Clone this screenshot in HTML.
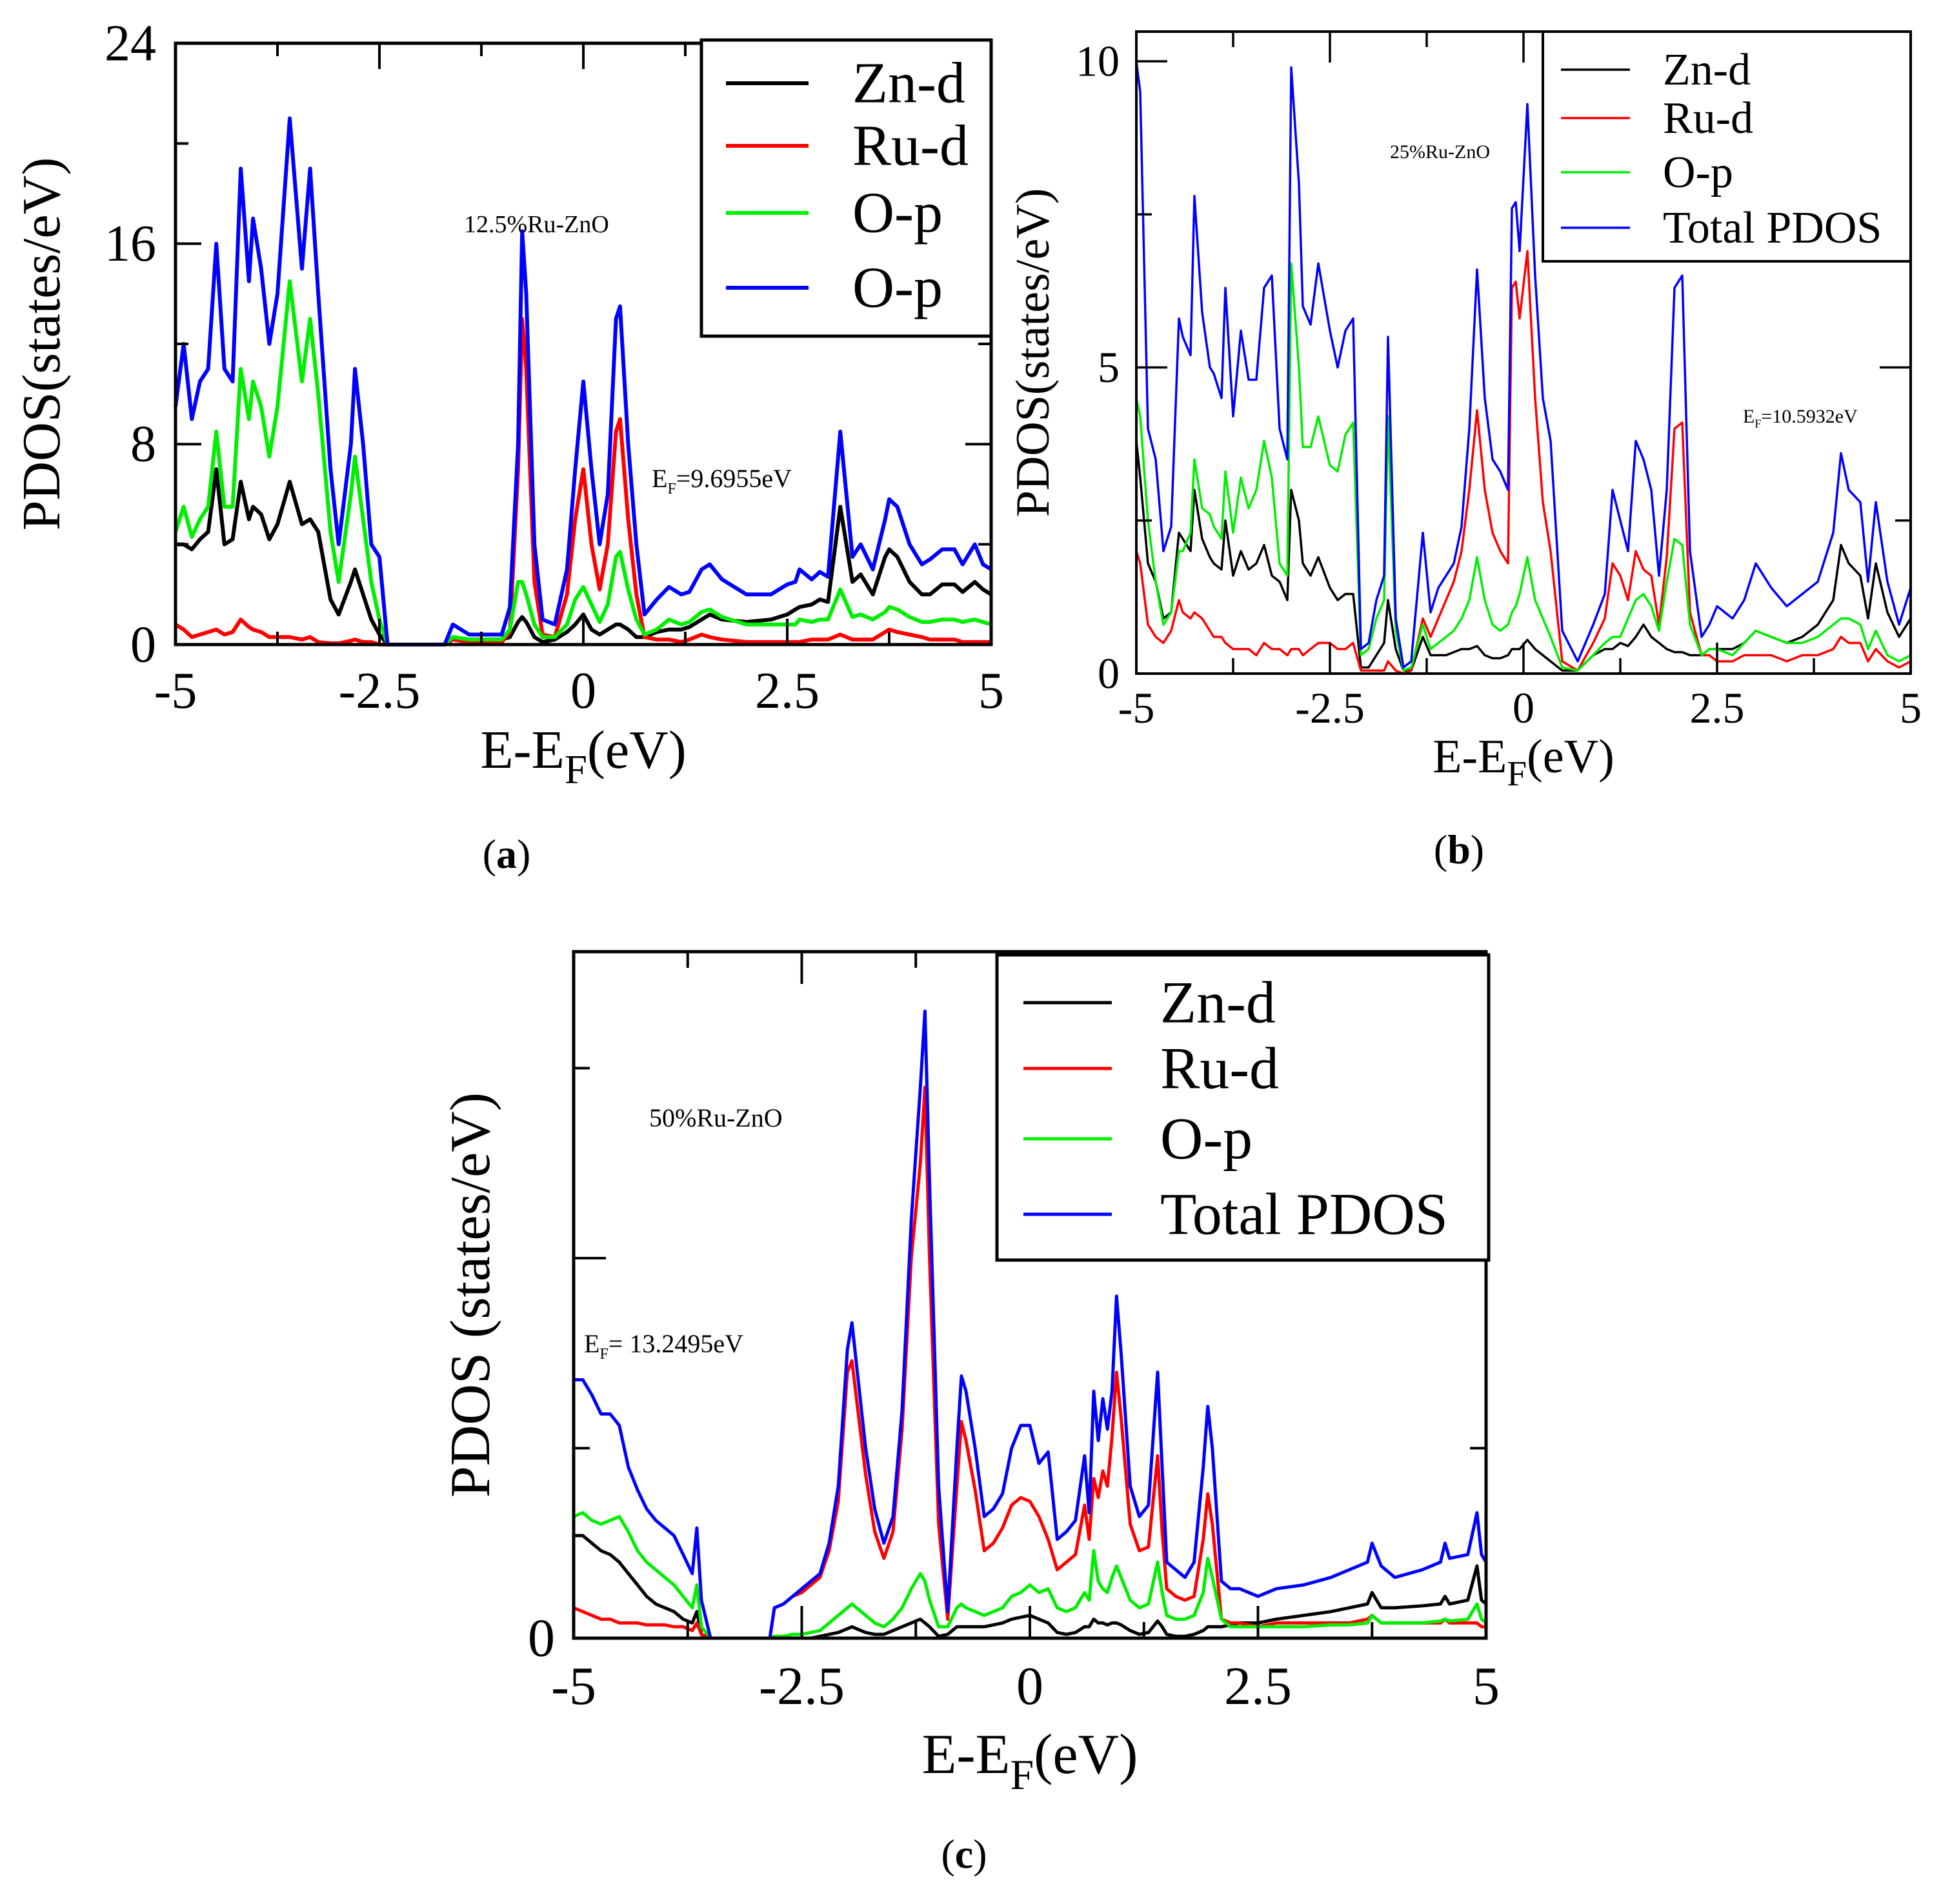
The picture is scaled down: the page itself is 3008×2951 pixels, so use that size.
<!DOCTYPE html>
<html><head><meta charset="utf-8"><style>
html,body{margin:0;padding:0;background:#fff}
svg, svg text{font-family:"Liberation Serif","Times New Roman",serif}
</style></head><body>
<svg id="fig" width="3008" height="2946" viewBox="0 0 3008 2946" xmlns="http://www.w3.org/2000/svg" font-family="Liberation Serif, serif">
<rect width="3008" height="2946" fill="#fff"/>
</svg>
<script>
// ---------- Panel (a) data ----------
const aEnergy=[-5,-4.9,-4.8,-4.7,-4.6,-4.5,-4.4,-4.3,-4.2,-4.1,
-4.05,-3.95,-3.85,-3.75,-3.6,-3.45,-3.35,-3.25,-3.1,-3.0,
-2.85,-2.8,-2.7,-2.6,-2.5,-2.4,-1.7,-1.6,-1.4,-1.0,
-0.9,-0.8,-0.75,-0.7,-0.6,-0.5,-0.35,-0.2,-0.1,0,
0.1,0.2,0.3,0.4,0.45,0.55,0.65,0.75,0.9,1.05,
1.2,1.3,1.45,1.55,1.7,2.0,2.3,2.5,2.6,2.65,
2.8,2.9,3.0,3.15,3.3,3.4,3.55,3.7,3.75,3.85,
4.0,4.15,4.25,4.4,4.55,4.65,4.8,4.9,5.0];
const aTotal=[9.5,12,9,10.5,11,16,11,10.5,19,14.5,
17,15,12,14,21,15,19,14,7,4,
8,11,8,4,3.5,0,0,0.8,0.4,0.4,
1.5,8,16.5,14,4,1,0.8,3,7,10.5,
7,4,6,13,13.5,8,4,1.2,1.8,2.3,
2,2.1,3,3.2,2.6,2,2,2.4,2.5,3,
2.6,2.9,2.7,8.5,3.5,4,3,5,5.8,5.5,
4,3.2,3.4,3.8,3.8,3.2,4,3.2,3.0];
const aOp=[4.5,5.5,4.3,5,5.5,8.5,5.5,5.5,11,9,
10.5,9.5,7.5,9.5,14.5,10.5,13,10,4.5,2.5,
6,7.5,5,2.5,1,0,0,0.3,0.2,0.2,
0.6,2.5,2.5,2,0.8,0.3,0.3,0.8,1.8,2.3,
1.6,0.9,1.6,3.5,3.7,2.2,1,0.4,0.6,1.0,
0.8,0.9,1.3,1.4,1.1,0.8,0.8,0.8,0.8,1.0,
0.9,1.0,1.0,2.2,1.1,1.2,1.0,1.3,1.5,1.4,
1.1,0.9,0.9,1.0,1.0,0.9,1.0,0.9,0.8];
const aZnd=[4,4,3.8,4.2,4.5,7,4,4.2,6.5,5,
5.5,5.2,4.2,4.8,6.5,4.8,5,4.5,1.8,1.2,
2.5,3,2,1,0.4,0,0,0.3,0.2,0.2,
0.3,0.9,1.1,0.9,0.3,0.1,0.2,0.5,0.8,1.2,
0.6,0.4,0.6,0.8,0.8,0.6,0.3,0.3,0.5,0.6,
0.6,0.7,1.0,1.2,1.0,0.9,1.0,1.2,1.4,1.5,
1.6,1.8,1.7,5.5,2.5,2.8,2,3.5,3.8,3.5,
2.5,2.0,2.0,2.4,2.4,2.1,2.5,2.2,2.0];
const aRud=[0.8,0.6,0.3,0.4,0.5,0.6,0.4,0.5,1,0.7,
0.6,0.5,0.3,0.3,0.3,0.2,0.3,0.1,0.05,0.05,
0.15,0.2,0.1,0.1,0,0,0,0.2,0.1,0.1,
0.5,7,13,11,2.5,0.4,0.3,2,5,7,
4,2.2,4,8.5,9,5,2,0.3,0.2,0.2,
0.1,0.2,0.4,0.3,0.2,0.1,0.1,0.1,0.1,0.1,
0.2,0.2,0.2,0.4,0.2,0.2,0.2,0.5,0.6,0.5,
0.4,0.3,0.2,0.2,0.2,0.1,0.1,0.1,0.1];
const aYTicks=["0","8","16","24"];

// ---------- Panel (b) data ----------
const bEnergy=[-5,-4.95,-4.85,-4.75,-4.65,-4.55,-4.45,-4.4,-4.3,-4.25,
-4.15,-4.05,-4.0,-3.9,-3.85,-3.75,-3.65,-3.55,-3.45,-3.35,
-3.25,-3.15,-3.05,-3.0,-2.9,-2.85,-2.75,-2.65,-2.5,-2.4,
-2.3,-2.2,-2.1,-2.0,-1.9,-1.8,-1.75,-1.65,-1.55,-1.45,
-1.3,-1.2,-1.1,-1.0,-0.9,-0.8,-0.7,-0.6,-0.5,-0.4,
-0.3,-0.2,-0.15,-0.1,-0.05,0.05,0.15,0.25,0.35,0.5,
0.7,0.9,1.05,1.15,1.25,1.35,1.45,1.55,1.65,1.75,
1.85,1.95,2.05,2.15,2.3,2.4,2.5,2.7,2.85,3.0,
3.2,3.4,3.6,3.8,4.0,4.1,4.2,4.35,4.45,4.55,
4.7,4.85,5.0];
const bTotal=[10,9.5,4,3.5,2,2.4,5.8,5.5,5.2,7.8,
5.9,5,4.9,4.5,6.3,4.2,5.6,4.8,4.8,6.3,
6.5,4,3.5,9.9,8,6,5.7,6.7,5.6,5.0,
5.6,5.8,0.4,0.5,1.2,1.6,5.5,0.9,0.1,0.2,
2.3,1,1.4,1.6,1.8,2.4,4,6.6,4.5,3.5,
3.3,3,7.6,7.7,6.9,9.3,6.5,4.5,3.8,0.7,
0.2,0.8,1.3,3.0,2.5,2.0,3.8,3.5,3.0,1.6,
3.0,6.3,6.5,2.0,0.6,0.8,1.1,0.9,1.2,1.8,
1.4,1.1,1.3,1.5,2.3,3.6,3.0,2.8,1.5,2.8,
1.5,0.8,1.4];
const bOp=[4.5,4.2,2.5,1.5,0.8,1.0,2.0,2.0,2.3,3.5,
2.7,2.6,2.4,2.2,3.3,2.3,3.2,2.7,3.0,3.8,
3.2,1.8,1.6,6.7,5.0,3.7,3.7,4.2,3.4,3.3,
3.9,4.1,0.3,0.4,0.9,1.2,4.2,0.7,0.05,0.1,
0.8,0.4,0.5,0.6,0.7,0.9,1.2,1.9,1.2,0.8,
0.7,0.8,1.0,1.1,1.3,1.9,1.2,0.9,0.6,0.1,
0.05,0.3,0.5,0.6,0.6,0.9,1.2,1.3,1.1,0.7,
1.5,2.2,2.1,0.8,0.3,0.4,0.4,0.3,0.5,0.7,
0.6,0.5,0.5,0.6,0.8,0.9,0.9,0.8,0.4,0.7,
0.3,0.2,0.3];
const bZnd=[3.8,3.2,1.8,1.5,0.9,1.0,2.3,2.2,2.0,3.0,
2.2,1.9,1.8,1.7,2.5,1.6,2.0,1.7,1.8,2.1,
1.6,1.5,1.2,3.0,2.5,1.8,1.6,1.9,1.4,1.2,
1.3,1.3,0.1,0.1,0.3,0.5,1.2,0.4,0.05,0.05,
0.6,0.3,0.3,0.3,0.35,0.4,0.4,0.45,0.3,0.25,
0.25,0.3,0.4,0.4,0.4,0.55,0.4,0.3,0.2,0.05,
0.05,0.3,0.4,0.4,0.5,0.45,0.6,0.8,0.6,0.5,
0.4,0.35,0.35,0.3,0.3,0.4,0.4,0.4,0.5,0.7,
0.6,0.5,0.6,0.8,1.2,2.1,1.8,1.6,0.9,1.8,
1.0,0.6,0.9];
const bRud=[2.0,1.8,0.8,0.6,0.5,0.7,1.2,1.0,0.9,1.0,
0.9,0.7,0.6,0.6,0.5,0.4,0.4,0.4,0.3,0.5,
0.4,0.4,0.3,0.4,0.4,0.3,0.4,0.5,0.5,0.4,
0.4,0.5,0.05,0.05,0.05,0.05,0.2,0.05,0.0,0.05,
0.9,0.6,0.9,1.2,1.5,2.0,3.0,4.3,3.0,2.3,
2.0,1.8,6.3,6.4,5.8,6.9,4.5,2.8,2.0,0.2,
0.05,0.5,0.9,1.8,1.6,1.2,2.0,1.7,1.6,0.8,
1.9,4.0,4.1,1.0,0.3,0.3,0.2,0.2,0.3,0.3,
0.3,0.2,0.3,0.3,0.4,0.6,0.5,0.5,0.2,0.4,
0.2,0.1,0.2];
const bYTicks=["0","5","10"];

// ---------- Panel (c) data ----------
const cEnergy=[-5,-4.9,-4.8,-4.7,-4.6,-4.5,-4.4,-4.3,-4.2,-4.1,
-4.0,-3.9,-3.8,-3.7,-3.65,-3.6,-3.5,-3.45,-2.85,-2.8,
-2.7,-2.6,-2.5,-2.4,-2.3,-2.2,-2.1,-2.0,-1.95,-1.9,
-1.8,-1.7,-1.6,-1.5,-1.4,-1.3,-1.2,-1.15,-1.1,-1.0,
-0.9,-0.8,-0.75,-0.7,-0.6,-0.5,-0.4,-0.3,-0.2,-0.1,
0,0.1,0.2,0.3,0.4,0.5,0.6,0.65,0.7,0.75,
0.8,0.85,0.9,0.95,1.0,1.1,1.2,1.3,1.4,1.45,
1.5,1.6,1.7,1.8,1.9,1.95,2.0,2.1,2.2,2.3,
2.5,2.7,3.0,3.3,3.5,3.7,3.75,3.85,4.0,4.3,
4.5,4.55,4.6,4.8,4.9,4.95,5.0];
const cTotal=[6.8,6.8,6.4,5.9,5.9,5.6,4.5,3.9,3.4,3.1,
2.9,2.7,2.2,1.7,2.9,1.0,0,0,0,0.8,
0.9,1.1,1.3,1.5,1.7,2.5,4.0,7.6,8.3,7.2,
5.0,3.4,2.5,3.2,6.0,11,14.5,16.5,12,4,
0.7,5.0,6.9,6.5,5.0,3.2,3.4,3.8,5.0,5.6,
5.6,4.6,4.9,2.6,2.8,3.1,4.8,3.3,6.5,5.2,
6.3,5.5,6.5,9.0,7.5,4.0,3.2,3.5,7.0,4.5,
2.0,1.8,1.6,2.0,4.5,6.1,5.0,1.5,1.3,1.3,
1.1,1.3,1.4,1.6,1.8,2.0,2.5,1.9,1.6,1.8,
2.0,2.5,2.1,2.2,3.3,2.2,2.0];
const cRud=[0.8,0.7,0.6,0.5,0.5,0.4,0.4,0.4,0.35,0.35,
0.35,0.3,0.3,0.2,0.4,0.1,0,0,0,0.8,
0.9,1.1,1.2,1.4,1.6,2.3,3.6,7.0,7.3,6.3,
4.3,2.8,2.1,2.8,5.5,10,12.5,14.5,10,3,
0.5,4.0,5.7,5.2,3.9,2.3,2.5,2.9,3.5,3.7,
3.6,3.2,2.6,1.8,2.0,2.2,3.5,2.6,4.2,3.7,
4.4,4.0,5.3,7.0,5.8,3.0,2.3,2.4,4.8,2.8,
1.3,1.1,1.0,1.1,2.6,3.8,3.0,0.5,0.4,0.4,
0.3,0.4,0.4,0.4,0.4,0.5,0.6,0.4,0.4,0.4,
0.4,0.5,0.4,0.4,0.4,0.3,0.3];
const cOp=[3.2,3.3,3.1,3.0,3.1,3.2,2.8,2.3,2.0,1.8,
1.6,1.4,1.1,0.8,1.4,0.3,0,0,0,0.05,
0.05,0.1,0.1,0.15,0.2,0.4,0.6,0.8,0.9,0.8,
0.6,0.4,0.3,0.5,0.8,1.3,1.7,1.5,1.0,0.3,
0.3,0.8,0.9,0.8,0.7,0.6,0.7,0.8,1.1,1.2,
1.4,1.2,1.3,0.8,0.7,0.8,1.2,1.0,2.3,1.5,
1.3,1.2,1.6,1.9,1.6,1.0,0.8,0.9,2.0,1.2,
0.6,0.5,0.5,0.6,1.2,2.1,1.6,0.5,0.3,0.3,
0.3,0.3,0.3,0.35,0.35,0.4,0.6,0.4,0.4,0.4,
0.45,0.5,0.45,0.5,0.9,0.5,0.4];
const cZnd=[2.7,2.7,2.5,2.3,2.2,2.0,1.7,1.4,1.1,0.9,
0.8,0.7,0.5,0.4,0.7,0.1,0,0,0,0,
0,0,0,0,0.05,0.1,0.15,0.25,0.3,0.25,
0.15,0.1,0.1,0.2,0.3,0.4,0.5,0.4,0.3,0.05,
0.1,0.3,0.3,0.3,0.3,0.3,0.35,0.4,0.5,0.55,
0.6,0.5,0.4,0.15,0.1,0.15,0.3,0.3,0.5,0.4,
0.4,0.35,0.4,0.4,0.35,0.2,0.1,0.15,0.45,0.3,
0.1,0.05,0.05,0.1,0.2,0.3,0.3,0.3,0.35,0.4,
0.4,0.5,0.6,0.7,0.8,0.9,1.2,0.8,0.8,0.85,
0.9,1.1,0.9,1.0,1.9,1.0,0.9];
const cYTicks=["0"];
const xTickLabels=["-5","-2.5","0","2.5","5"];
const xTickValues=[-5,-2.5,0,2.5,5];

const NS="http://www.w3.org/2000/svg";
const FONT="Liberation Serif, Times New Roman, serif";
const svg=document.getElementById('fig');
function mk(tag,attrs,parent){const e=document.createElementNS(NS,tag);for(const k in attrs)e.setAttribute(k,attrs[k]);if(tag==='text')e.setAttribute('font-family',FONT);(parent||svg).appendChild(e);return e;}

function panel(cfg){
  const g=mk('g',{});
  
  
  const L=cfg.l,R=cfg.r,T=cfg.t,B=cfg.b;
  const sx=e=>L+(e-(-5))/10*(R-L);
  const sy=v=>B-(v-0)/cfg.ymaxVal*(B-cfg.ymaxPix);
  cfg.series.forEach(s=>{
    let d='';
    cfg.energy.forEach((e,i)=>{const y=Math.max(T,sy(s.vals[i]));d+=(i?'L':'M')+sx(e).toFixed(1)+' '+y.toFixed(1);});
    const p=mk('path',{d:d,fill:'none',stroke:s.color,'stroke-width':cfg.lw,'stroke-linejoin':'round'},g);
    
    
  });
  const tg=mk('g',{stroke:'#000','stroke-width':cfg.tw},g);
  
  
  for(let e=-5;e<=5.001;e+=1.25){
    const major=Math.abs(e/2.5-Math.round(e/2.5))<1e-6;
    const len=major?cfg.tl:cfg.tl/2;
    mk('line',{x1:sx(e),x2:sx(e),y1:B,y2:B-len},tg);
    mk('line',{x1:sx(e),x2:sx(e),y1:T,y2:T+len},tg);
  }
  cfg.yTicks.forEach(t=>{
    const len=t.major?cfg.tl:cfg.tl/2;
    mk('line',{x1:L,x2:L+len,y1:sy(t.v),y2:sy(t.v)},tg);
    mk('line',{x1:R,x2:R-len,y1:sy(t.v),y2:sy(t.v)},tg);
  });
  const fr=mk('rect',{x:L,y:T,width:R-L,height:B-T,fill:'none',stroke:'#000','stroke-width':cfg.fw},g);
  
  
  xTickValues.forEach((v,i)=>{
    const t=mk('text',{x:sx(v),y:cfg.xlabY,'font-size':cfg.tfs,'text-anchor':'middle'},g);
    t.textContent=xTickLabels[i];
    
    
  });
  cfg.yLabels.forEach((lab,i)=>{
    const t=mk('text',{x:cfg.ylabX,y:sy(cfg.yLabelVals[i])+cfg.tfs*0.33,'font-size':cfg.tfs,'text-anchor':'end'},g);
    t.textContent=lab;
    
    
  });
  const xt=mk('text',{x:(L+R)/2,y:cfg.xtY,'font-size':cfg.afs,'text-anchor':'middle'},g);
  
  
  xt.innerHTML='E-E<tspan dy="'+(cfg.afs*0.28)+'" font-size="'+(cfg.afs*0.75)+'">F</tspan><tspan dy="'+(-cfg.afs*0.28)+'">(eV)</tspan>';
  const yt=mk('text',{x:0,y:0,'font-size':cfg.afs,'text-anchor':'middle',transform:'translate('+cfg.ytX+','+(cfg.ytY||(T+B)/2)+') rotate(-90)'},g);
  yt.textContent=cfg.ytitle;
  
  
  const lg=mk('g',{},g);
  
  
  const lb=cfg.leg;
  mk('rect',{x:lb.x,y:lb.y,width:lb.w,height:lb.h,fill:'#fff',stroke:'#000','stroke-width':cfg.fw},lg);
  lb.items.forEach((it,i)=>{
    const cy=lb.rows[i];
    mk('line',{x1:lb.lx1,x2:lb.lx2,y1:cy,y2:cy,stroke:it.c,'stroke-width':cfg.lw},lg);
    const t=mk('text',{x:lb.tx,y:cy+lb.fs*0.33,'font-size':lb.fs},lg);
    t.textContent=it.t;
    
    
  });
  cfg.notes.forEach(n=>{
    const t=mk('text',{x:n.x,y:n.y,'font-size':n.fs},g);
    if(n.ef){t.innerHTML='E<tspan dy="'+(n.fs*0.25)+'" font-size="'+(n.fs*0.6)+'">F</tspan><tspan dy="'+(-n.fs*0.25)+'">'+n.t+'</tspan>';}
    else t.textContent=n.t;
    
    
  });
  const cap=mk('text',{x:cfg.cap.x,y:cfg.cap.y,'font-size':cfg.cap.fs,'text-anchor':'middle'},g);
  cap.innerHTML='(<tspan font-weight="bold">'+cfg.cap.t+'</tspan>)';
  
  
}

panel({name:'panel-a',l:272,r:1536,t:67,b:999,ymaxVal:24,ymaxPix:67,energy:aEnergy,lw:6,tw:4,fw:5,tl:40,
  series:[{key:'zn-d',color:'#000',vals:aZnd},{key:'ru-d',color:'#f00',vals:aRud},{key:'o-p',color:'#0e0',vals:aOp},{key:'total',color:'#00f',vals:aTotal}],
  yTicks:[0,4,8,12,16,20,24].map(v=>({v:v,major:v%8===0})),
  yLabels:aYTicks,yLabelVals:[0,8,16,24],ylabX:242,xlabY:1097,tfs:80,
  afs:84,xtY:1190,ytX:92,ytitle:'PDOS(states/eV)',
  leg:{x:1087,y:62,w:449,h:459,lx1:1125,lx2:1253,tx:1321,fs:90,rows:[129,226,330,446],
    items:[{t:'Zn-d',c:'#000'},{t:'Ru-d',c:'#f00'},{t:'O-p',c:'#0e0'},{t:'O-p',c:'#00f'}]},
  notes:[{t:'12.5%Ru-ZnO',x:719,y:360,fs:38,name:'doping-label'},{t:'=9.6955eV',x:1010,y:755,fs:40,ef:true,name:'fermi-energy-label'}],
  cap:{x:785,y:1345,fs:64,t:'a'}});

panel({name:'panel-b',l:1761,r:2961,t:49,b:1044,ymaxVal:10,ymaxPix:95,energy:bEnergy,lw:3.5,tw:3.5,fw:4,tl:48,
  series:[{key:'zn-d',color:'#000',vals:bZnd},{key:'ru-d',color:'#f00',vals:bRud},{key:'o-p',color:'#0e0',vals:bOp},{key:'total',color:'#00f',vals:bTotal}],
  yTicks:[0,2.5,5,7.5,10].map(v=>({v:v,major:v%5===0})),
  yLabels:bYTicks,yLabelVals:[0,5,10],ylabX:1735,xlabY:1120,tfs:68,
  afs:74,xtY:1197,ytX:1625,ytitle:'PDOS(states/eV)',
  leg:{x:2391,y:49,w:570,h:356,lx1:2419,lx2:2526,tx:2577,fs:70,rows:[108,183,267,353],
    items:[{t:'Zn-d',c:'#000'},{t:'Ru-d',c:'#f00'},{t:'O-p',c:'#0e0'},{t:'Total PDOS',c:'#00f'}]},
  notes:[{t:'25%Ru-ZnO',x:2154,y:245,fs:30,name:'doping-label'},{t:'=10.5932eV',x:2701,y:655,fs:30,ef:true,name:'fermi-energy-label'}],
  cap:{x:2261,y:1338,fs:64,t:'b'}});

panel({name:'panel-c',l:889,r:2303,t:1475,b:2539,ymaxVal:10,ymaxPix:1950,energy:cEnergy,lw:5,tw:4,fw:5,tl:50,
  series:[{key:'zn-d',color:'#000',vals:cZnd},{key:'ru-d',color:'#f00',vals:cRud},{key:'o-p',color:'#0e0',vals:cOp},{key:'total',color:'#00f',vals:cTotal}],
  yTicks:[0,5,10,15].map(v=>({v:v,major:v%10===0})),
  yLabels:cYTicks,yLabelVals:[0],ylabX:860,xlabY:2641,tfs:84,
  afs:88,xtY:2748,ytX:758,ytitle:'PDOS (states/eV)',
  leg:{x:1545,y:1480,w:762,h:473,lx1:1586,lx2:1723,tx:1798,fs:92,rows:[1554,1656,1765,1882],
    items:[{t:'Zn-d',c:'#000'},{t:'Ru-d',c:'#f00'},{t:'O-p',c:'#0e0'},{t:'Total PDOS',c:'#00f'}]},
  notes:[{t:'50%Ru-ZnO',x:1006,y:1746,fs:40,name:'doping-label'},{t:'= 13.2495eV',x:905,y:2096,fs:40,ef:true,name:'fermi-energy-label'}],
  cap:{x:1494,y:2895,fs:64,t:'c'}});
</script>
</body></html>
